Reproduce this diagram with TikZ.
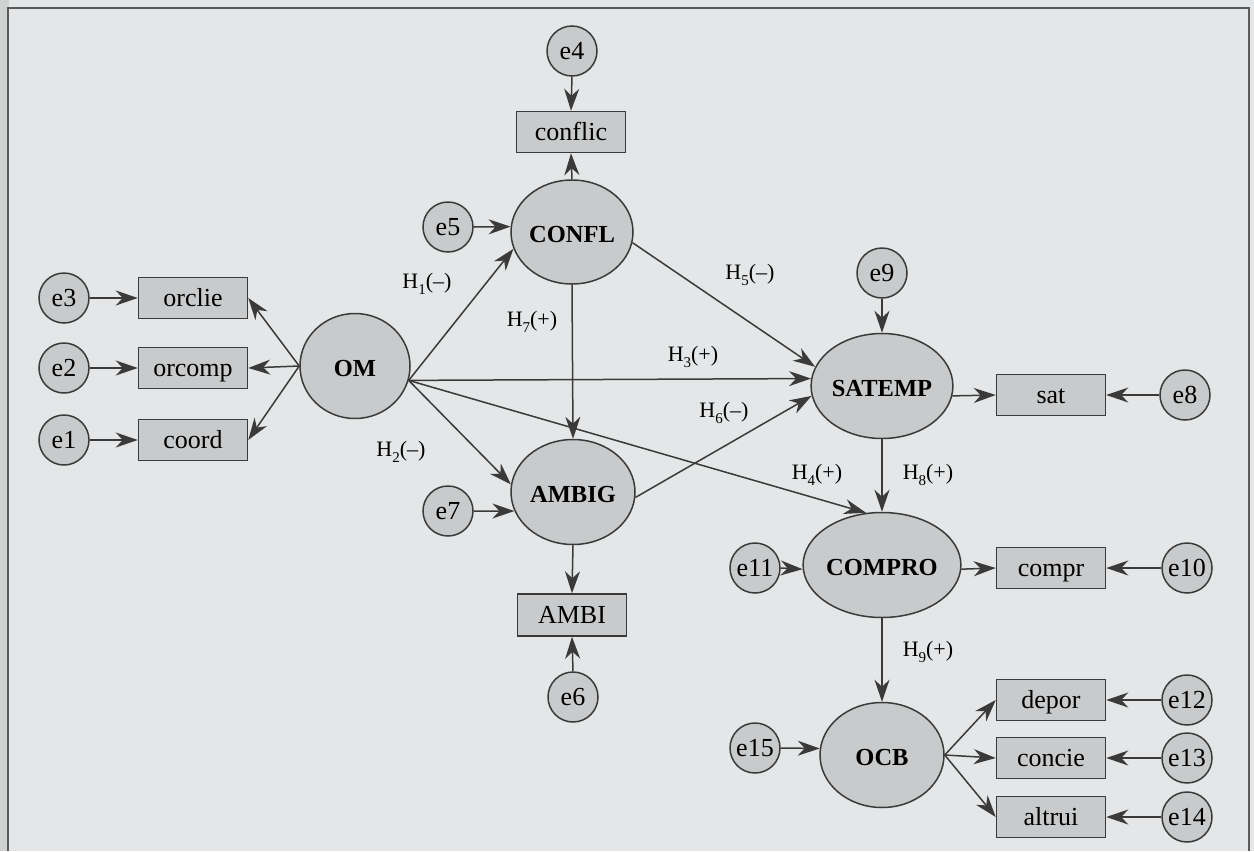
\documentclass[tikz,border=0pt]{standalone}
\usepackage{fontspec}
\setmainfont{Liberation Serif}
\usetikzlibrary{shapes.geometric,arrows.meta}
\definecolor{bg}{HTML}{E4E6E7}
\definecolor{nf}{HTML}{C9CACB}
\definecolor{lc}{HTML}{3A3A3A}
\definecolor{fr}{HTML}{5A5A5A}
\definecolor{edge}{HTML}{D0D1D1}
\newcommand\hlab[2]{H\raisebox{-0.3em}{\fontsize{15}{15}\selectfont #1}(#2)}
\begin{document}
\begin{tikzpicture}[x=1pt,y=-1pt,
  errnode/.style={circle, draw=lc, fill=nf, line width=1.5pt, minimum size=50pt, inner sep=0pt, text height=17pt, text depth=0pt, font=\fontsize{26}{28}\selectfont},
  obsnode/.style={rectangle, draw=lc, fill=nf, line width=1.5pt, minimum width=109pt, minimum height=41pt, inner sep=0pt, text height=20pt, text depth=3pt, font=\fontsize{26}{28}\selectfont},
  latnode/.style={ellipse, draw=lc, fill=nf, line width=1.5pt, minimum width=124pt, minimum height=105pt, inner sep=0pt, text height=20pt, text depth=0pt, font=\fontsize{24.5}{26}\selectfont\bfseries},
  arr/.style={draw=lc, line width=1.5pt, -{Stealth[length=22pt,width=15pt,inset=7pt]}},
  hlbl/.style={font=\fontsize{22}{24}\selectfont, inner sep=0pt}]
% background and frame
\fill[bg] (0,0) rectangle (1254,851);
\fill[edge] (0,0) rectangle (9,851);
\draw[fr, line width=2pt] (8,851) -- (8,8) -- (1249,8) -- (1249,851);
% latent variables
\node[latnode, minimum width=110pt] (OM) at (355,366) {OM};
\node[latnode, minimum width=122pt, minimum height=104pt] (CONFL) at (572,232) {CONFL};
\node[latnode] (AMBIG) at (573,492) {AMBIG};
\node[latnode] (SATEMP) at (882,386) {SATEMP};
\node[latnode] (COMPRO) at (882,565) {COMPRO};
\node[latnode] (OCB) at (882,755) {OCB};
% observed variables
\node[obsnode] (orclie) at (193,298) {orclie};
\node[obsnode] (orcomp) at (193,368) {orcomp};
\node[obsnode] (coord) at (193,440) {coord};
\node[obsnode] (conflic) at (571,132) {conflic};
\node[obsnode, minimum height=42pt] (AMBI) at (572,615) {AMBI};
\node[obsnode] (sat) at (1051,395) {sat};
\node[obsnode] (compr) at (1051,568) {compr};
\node[obsnode] (depor) at (1051,700) {depor};
\node[obsnode] (concie) at (1051,758) {concie};
\node[obsnode] (altrui) at (1051,817) {altrui};
% error terms
\node[errnode] (e3) at (64,298) {e3};
\node[errnode] (e2) at (64,368) {e2};
\node[errnode] (e1) at (64,440) {e1};
\node[errnode] (e4) at (572,51) {e4};
\node[errnode] (e5) at (448,227) {e5};
\node[errnode] (e7) at (448,511) {e7};
\node[errnode] (e6) at (573,697) {e6};
\node[errnode] (e9) at (882,273) {e9};
\node[errnode] (e8) at (1185,395) {e8};
\node[errnode] (e11) at (755,568) {e11};
\node[errnode] (e10) at (1187,568) {e10};
\node[errnode] (e15) at (755,748) {e15};
\node[errnode] (e12) at (1187,700) {e12};
\node[errnode] (e13) at (1187,758) {e13};
\node[errnode] (e14) at (1187,817) {e14};
% measurement arrows
\draw[arr] (e3.east) -- (orclie.west);
\draw[arr] (e2.east) -- (orcomp.west);
\draw[arr] (e1.east) -- (coord.west);
\draw[arr] (OM.west) -- (orclie.east);
\draw[arr] (OM.west) -- (orcomp.east);
\draw[arr] (OM.west) -- (coord.east);
\draw[arr] (e4.south) -- (conflic.north);
\draw[arr] (CONFL.north) -- (conflic.south);
\draw[arr] (e5.east) -- (CONFL.175);
\draw[arr] (e7.east) -- (AMBIG.198);
\draw[arr] (AMBIG.south) -- (AMBI.north);
\draw[arr] (e6.north) -- (AMBI.south);
\draw[arr] (e9.south) -- (SATEMP.north);
\draw[arr] (SATEMP.-8) -- (sat.west);
\draw[arr] (e8.west) -- (sat.east);
\draw[arr] (e11.east) -- (COMPRO.183);
\draw[arr] (COMPRO.-3) -- (compr.west);
\draw[arr] (e10.west) -- (compr.east);
\draw[arr] (e15.east) -- (OCB.174);
\draw[arr] (OCB.east) -- (depor.west);
\draw[arr] (OCB.east) -- (concie.west);
\draw[arr] (OCB.east) -- (altrui.west);
\draw[arr] (e12.west) -- (depor.east);
\draw[arr] (e13.west) -- (concie.east);
\draw[arr] (e14.west) -- (altrui.east);
% structural paths
\coordinate (omE) at (OM.-15);
\draw[arr] (omE) -- (CONFL.196);
\draw[arr] (omE) -- (SATEMP.174);
\draw[arr] (omE) -- (AMBIG.173);
\draw[arr] (omE) -- (COMPRO.107);
\draw[arr] (CONFL.south) -- (AMBIG.north);
\draw[arr] (CONFL.-10) -- (SATEMP.164);
\draw[arr] (AMBIG.-5) -- (SATEMP.188);
\draw[arr] (SATEMP.south) -- (COMPRO.north);
\draw[arr] (COMPRO.south) -- (OCB.north);
% path labels
\node[hlbl] (h1) at (427,284) {\hlab{1}{–}};
\node[hlbl] (h7) at (532,322) {\hlab{7}{+}};
\node[hlbl] (h3) at (693,357) {\hlab{3}{+}};
\node[hlbl] (h5) at (750,275) {\hlab{5}{–}};
\node[hlbl] (h6) at (724,413) {\hlab{6}{–}};
\node[hlbl] (h2) at (401,452) {\hlab{2}{–}};
\node[hlbl] (h4) at (817,475) {\hlab{4}{+}};
\node[hlbl] (h8) at (928,475) {\hlab{8}{+}};
\node[hlbl] (h9) at (928,652) {\hlab{9}{+}};
\end{tikzpicture}
\end{document}
